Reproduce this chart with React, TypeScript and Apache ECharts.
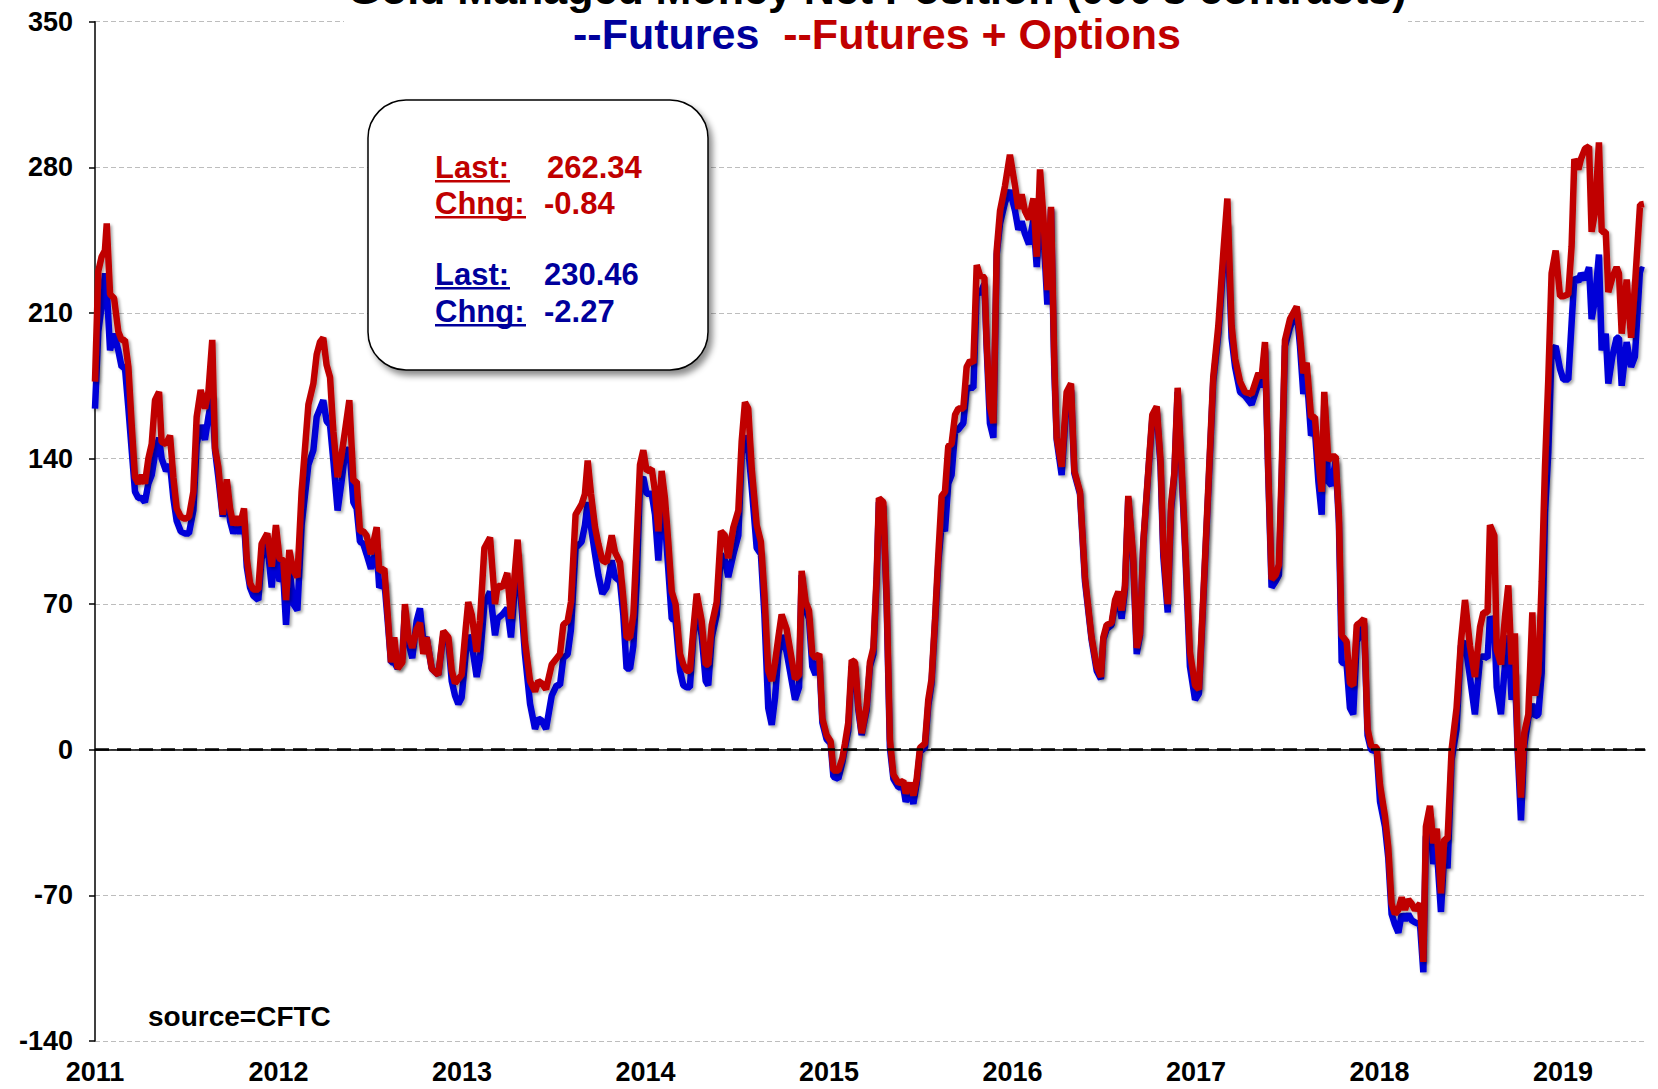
import React, { useEffect, useRef } from "react";
import * as echarts from "echarts";

// decimal-year dates of the weekly readings
const weeks = [
  2011.000, 2011.018, 2011.036, 2011.054, 2011.064, 2011.082, 2011.104, 2011.127, 2011.145, 2011.163,
  2011.182, 2011.200, 2011.218, 2011.236, 2011.254, 2011.272, 2011.291, 2011.309, 2011.327, 2011.349,
  2011.363, 2011.387, 2011.409, 2011.427, 2011.445, 2011.467, 2011.490, 2011.512, 2011.536, 2011.554,
  2011.576, 2011.599, 2011.618, 2011.639, 2011.654, 2011.672, 2011.696, 2011.718, 2011.736, 2011.754,
  2011.772, 2011.790, 2011.812, 2011.827, 2011.845, 2011.863, 2011.890, 2011.908, 2011.939, 2011.963,
  2011.986, 2012.005, 2012.026, 2012.041, 2012.059, 2012.081, 2012.103, 2012.126, 2012.163, 2012.190,
  2012.208, 2012.226, 2012.244, 2012.262,
  2012.281, 2012.299, 2012.322, 2012.344, 2012.362, 2012.386, 2012.408, 2012.426, 2012.444, 2012.462,
  2012.480, 2012.504, 2012.535, 2012.549, 2012.577, 2012.595, 2012.613, 2012.631, 2012.649, 2012.675,
  2012.689, 2012.707, 2012.729, 2012.753, 2012.771, 2012.789, 2012.807, 2012.835, 2012.871, 2012.898,
  2012.926, 2012.944, 2012.962, 2012.980, 2012.998, 2013.020, 2013.034, 2013.053, 2013.080, 2013.098,
  2013.122, 2013.153, 2013.180, 2013.194, 2013.220, 2013.247, 2013.267, 2013.303, 2013.343, 2013.371,
  2013.398, 2013.416, 2013.434, 2013.458, 2013.489, 2013.516,
  2013.534, 2013.552, 2013.576, 2013.594, 2013.619, 2013.652, 2013.670, 2013.685, 2013.703, 2013.725,
  2013.743, 2013.765, 2013.788, 2013.816, 2013.834, 2013.861, 2013.879, 2013.897, 2013.916, 2013.934,
  2013.952, 2013.970, 2013.988, 2014.006, 2014.034, 2014.052, 2014.070, 2014.088, 2014.106, 2014.124,
  2014.143, 2014.164, 2014.188, 2014.206, 2014.224, 2014.242, 2014.261, 2014.279, 2014.306, 2014.328,
  2014.342, 2014.361, 2014.388, 2014.411, 2014.433, 2014.451, 2014.479, 2014.506, 2014.524, 2014.542,
  2014.560, 2014.579, 2014.606, 2014.629, 2014.648, 2014.669, 2014.688, 2014.706, 2014.724, 2014.742,
  2014.769,
  2014.815, 2014.837, 2014.851, 2014.873, 2014.891, 2014.909, 2014.927, 2014.947, 2014.964, 2014.987,
  2015.009, 2015.024, 2015.051, 2015.073, 2015.087, 2015.105, 2015.124, 2015.142, 2015.160, 2015.178,
  2015.205, 2015.223, 2015.242, 2015.260, 2015.272, 2015.296, 2015.314, 2015.332, 2015.351, 2015.378,
  2015.405, 2015.418, 2015.441, 2015.460, 2015.478, 2015.496, 2015.523, 2015.541, 2015.559, 2015.578,
  2015.596, 2015.614, 2015.632, 2015.650, 2015.668, 2015.687, 2015.705, 2015.732, 2015.750, 2015.768,
  2015.787, 2015.805, 2015.823, 2015.847, 2015.859, 2015.877, 2015.896, 2015.914, 2015.932, 2015.959,
  2015.986, 2016.014,
  2016.032, 2016.050, 2016.068, 2016.090, 2016.114, 2016.132, 2016.150, 2016.168, 2016.190, 2016.210,
  2016.228, 2016.241, 2016.268, 2016.295, 2016.319, 2016.337, 2016.368, 2016.395, 2016.431, 2016.459,
  2016.482, 2016.495, 2016.513, 2016.540, 2016.559, 2016.577, 2016.595, 2016.613, 2016.631, 2016.658,
  2016.677, 2016.695, 2016.713, 2016.740, 2016.762, 2016.786, 2016.807, 2016.822, 2016.846, 2016.864,
  2016.882, 2016.900, 2016.922, 2016.944, 2016.967, 2016.995, 2017.016, 2017.040, 2017.067, 2017.094,
  2017.122, 2017.149, 2017.171, 2017.194, 2017.213, 2017.240, 2017.267,
  2017.303, 2017.340, 2017.358, 2017.376, 2017.394, 2017.412, 2017.434, 2017.452, 2017.467, 2017.485,
  2017.512, 2017.549, 2017.567, 2017.585, 2017.603, 2017.627, 2017.648, 2017.667, 2017.685, 2017.699,
  2017.721, 2017.739, 2017.761, 2017.779, 2017.794, 2017.821, 2017.839, 2017.857, 2017.876, 2017.894,
  2017.916, 2017.935, 2017.954, 2017.985, 2018.003, 2018.030, 2018.048, 2018.066, 2018.084, 2018.103,
  2018.121, 2018.139, 2018.157, 2018.175, 2018.193, 2018.221, 2018.239, 2018.253, 2018.275, 2018.293,
  2018.312, 2018.335, 2018.353, 2018.371, 2018.393, 2018.420, 2018.444, 2018.466, 2018.493, 2018.520,
  2018.548, 2018.566, 2018.589, 2018.602, 2018.626, 2018.639, 2018.662, 2018.684, 2018.702, 2018.720,
  2018.738, 2018.753, 2018.771, 2018.789, 2018.811, 2018.833, 2018.847, 2018.866, 2018.884, 2018.902,
  2018.920, 2018.938, 2018.960, 2018.984, 2019.002, 2019.029, 2019.047, 2019.062, 2019.084, 2019.098,
  2019.120, 2019.142, 2019.156, 2019.174, 2019.196, 2019.211, 2019.233, 2019.247, 2019.269, 2019.292,
  2019.305, 2019.320, 2019.347, 2019.371, 2019.392, 2019.420, 2019.441,
];

// Futures + Options (red), 000s contracts
const futuresOptions = [
  177, 230, 237, 240, 253, 219, 217, 201, 197, 197,
  184, 156, 131, 128, 132, 128, 140, 147, 168, 172,
  148, 147, 151, 131, 116, 112, 111, 112, 124, 160,
  173, 164, 172, 197, 145, 136, 113, 130, 116, 108,
  112, 108, 116, 92, 80, 77, 77, 99, 104, 88,
  108, 92, 91, 72, 96, 86, 83, 124, 166, 176,
  190, 196, 198, 185,
  179, 153, 131, 142, 153, 168, 129, 129, 105, 105,
  103, 94, 107, 86, 87, 65, 42, 54, 39, 42,
  70, 55, 49, 58, 61, 46, 54, 39, 36, 57,
  54, 38, 32, 34, 36, 58, 71, 65, 47, 62,
  97, 102, 70, 79, 78, 85, 63, 101, 52, 33,
  28, 33, 32, 29, 41, 44,
  46, 60, 62, 71, 113, 118, 123, 139, 123, 107,
  99, 91, 90, 103, 95, 90, 73, 54, 54, 65,
  100, 137, 144, 134, 135, 124, 105, 134, 121, 100,
  76, 70, 46, 41, 38, 38, 58, 75, 62, 41,
  41, 60, 71, 105, 103, 92, 107, 115, 148, 167,
  164, 135, 108, 100, 75, 38, 33, 42, 54, 65,
  58,
  34, 36, 86, 71, 67, 46, 44, 46, 15, 7,
  4, -10, -10, -4, 3, 13, 43, 42, 21, 8,
  21, 42, 49, 84, 121, 119, 74, 5, -12, -16,
  -15, -21, -16, -22, -14, 1, 3, 24, 34, 63,
  94, 122, 124, 146, 147, 161, 164, 164, 184, 187,
  186, 233, 228, 227, 196, 165, 157, 240, 259, 271,
  286, 271,
  260, 267, 259, 255, 265, 237, 279, 257, 221, 261,
  186, 150, 136, 172, 176, 134, 124, 83, 54, 40,
  35, 54, 60, 61, 72, 76, 67, 79, 122, 93,
  49, 56, 100, 134, 161, 165, 139, 97, 70, 118,
  133, 174, 136, 93, 47, 31, 29, 74, 126, 179,
  204, 239, 265, 204, 188, 177, 172,
  171, 181, 179, 196, 134, 82, 84, 89, 134, 197,
  207, 213, 199, 181, 186, 160, 160, 139, 124, 172,
  139, 141, 141, 112, 55, 52, 32, 31, 60, 61,
  63, 10, 2, 1, -17, -32, -47, -74, -79, -77,
  -71, -77, -72, -74, -77, -74, -102, -37, -27, -45,
  -38, -69, -43, -43, 0, 20, 52, 72, 50, 35,
  59, 66, 66, 108, 103, 48, 41, 64, 79, 41,
  56, 2, -23, 8, 17, 66, 26, 37, 81, 136,
  178, 229, 240, 218, 218, 219, 242, 284, 279, 284,
  289, 290, 249, 258, 292, 249, 249, 220, 227, 232,
  229, 200, 226, 198, 223, 262, 262.34,
];

// Futures only (blue), 000s contracts
const futures = [
  164, 201, 213, 229, 222, 192, 200, 192, 184, 184,
  164, 144, 124, 121, 121, 119, 128, 132, 142, 150,
  140, 134, 137, 121, 110, 105, 104, 104, 115, 147,
  156, 149, 160, 170, 144, 131, 112, 128, 110, 104,
  108, 104, 110, 88, 78, 74, 72, 92, 99, 78,
  100, 81, 84, 60, 88, 70, 67, 108, 137, 144,
  160, 164, 168, 158,
  156, 139, 115, 129, 142, 145, 119, 116, 100, 99,
  94, 87, 97, 78, 81, 62, 42, 42, 39, 44,
  67, 52, 44, 62, 68, 52, 54, 39, 36, 55,
  52, 33, 26, 22, 25, 46, 55, 51, 35, 44,
  70, 76, 55, 63, 65, 68, 54, 95, 46, 22,
  10, 15, 14, 10, 26, 31,
  31, 44, 46, 58, 97, 100, 108, 119, 107, 94,
  84, 75, 78, 91, 83, 81, 65, 39, 39, 50,
  81, 129, 131, 123, 123, 113, 91, 116, 110, 87,
  63, 62, 38, 31, 30, 30, 55, 68, 55, 33,
  31, 54, 65, 94, 91, 83, 94, 103, 142, 151,
  145, 126, 97, 94, 65, 20, 12, 25, 46, 55,
  47,
  24, 30, 84, 67, 63, 40, 36, 44, 13, 5,
  3, -13, -14, -6, 1, 9, 40, 40, 19, 7,
  19, 40, 46, 82, 119, 117, 71, 1, -14, -18,
  -18, -25, -20, -26, -16, -1, 1, 21, 32, 61,
  90, 109, 105, 128, 132, 153, 154, 157, 173, 174,
  174, 221, 219, 224, 194, 157, 150, 238, 253, 263,
  269, 259,
  250, 254, 248, 243, 255, 232, 257, 250, 214, 260,
  182, 149, 132, 168, 173, 133, 123, 81, 53, 38,
  34, 53, 58, 60, 70, 72, 63, 77, 121, 90,
  46, 55, 99, 133, 159, 163, 136, 93, 66, 115,
  132, 172, 133, 90, 40, 24, 27, 72, 124, 177,
  200, 234, 253, 198, 184, 172, 170,
  166, 176, 175, 193, 132, 78, 81, 84, 129, 194,
  203, 211, 194, 171, 181, 151, 154, 129, 113, 166,
  129, 127, 139, 109, 42, 41, 20, 17, 52, 55,
  61, 7, 0, -1, -25, -37, -52, -79, -84, -88,
  -79, -82, -79, -82, -83, -84, -107, -42, -32, -55,
  -47, -78, -50, -57, -5, 10, 50, 52, 35, 17,
  44, 45, 44, 64, 59, 30, 17, 41, 55, 24,
  37, 0, -34, 2, 15, 22, 16, 17, 37, 114,
  143, 192, 194, 183, 178, 178, 205, 227, 225, 229,
  226, 232, 207, 216, 238, 192, 200, 176, 189, 198,
  198, 175, 196, 184, 189, 231, 230.46,
];

const titleLine1 = "Gold Managed Money Net Position (000's contracts)";
const legendFutures = "--Futures";
const legendFuturesOptions = "--Futures + Options";
const sourceNote = "source=CFTC";

const boxRows = [
  { label: "Last:", value: "262.34", series: "fo" },
  { label: "Chng:", value: "-0.84", series: "fo" },
  { label: "Last:", value: "230.46", series: "f" },
  { label: "Chng:", value: "-2.27", series: "f" },
];

const RED = "#C00000";
const BLUE_LINE = "#0000D8";
const BLUE_TEXT = "#00009C";
const FONT = "'Liberation Sans', Arial, Helvetica, sans-serif";

export default function App() {
  const ref = useRef<HTMLDivElement>(null);

  useEffect(() => {
    if (!ref.current) return;
    const chart = echarts.init(ref.current, undefined, { renderer: "svg" });

    const rowY = [167, 203, 274, 311];
    const rowValueX = [547, 544, 544, 544];
    const labelFs = 31;
    const graphics: any[] = [];

    // title background (covers the top gridline)
    graphics.push({
      type: "rect",
      z: 100,
      shape: { x: 344, y: 0, width: 1064, height: 56 },
      style: { fill: "#ffffff" },
    });
    graphics.push({
      type: "text",
      z: 101,
      x: 877,
      y: -11,
      style: {
        text: titleLine1,
        fill: "#000",
        font: `bold 43px ${FONT}`,
        align: "center",
        verticalAlign: "middle",
      },
    });
    graphics.push({
      type: "text",
      z: 101,
      x: 877,
      y: 34,
      style: {
        text: `{b|${legendFutures}}  {r|${legendFuturesOptions}}`,
        font: `bold 43px ${FONT}`,
        align: "center",
        verticalAlign: "middle",
        rich: {
          b: { fill: BLUE_TEXT, font: `bold 43px ${FONT}` },
          r: { fill: RED, font: `bold 43px ${FONT}` },
        },
      },
    });

    // info box
    graphics.push({
      type: "rect",
      z: 100,
      shape: { x: 368, y: 100, width: 340, height: 270, r: 38 },
      style: {
        fill: "#ffffff",
        stroke: "#000",
        lineWidth: 1.5,
        shadowBlur: 6,
        shadowOffsetX: 4,
        shadowOffsetY: 5,
        shadowColor: "rgba(0,0,0,0.45)",
      },
    });
    boxRows.forEach((row, i) => {
      const color = row.series === "fo" ? RED : BLUE_TEXT;
      const labelW = row.label === "Last:" ? 75 : 91;
      graphics.push({
        type: "text",
        z: 101,
        x: 435,
        y: rowY[i],
        style: {
          text: row.label,
          fill: color,
          font: `bold ${labelFs}px ${FONT}`,
          align: "left",
          verticalAlign: "middle",
        },
      });
      graphics.push({
        type: "rect",
        z: 101,
        shape: { x: 435, y: rowY[i] + 13, width: labelW, height: 2.5 },
        style: { fill: color },
      });
      graphics.push({
        type: "text",
        z: 101,
        x: rowValueX[i],
        y: rowY[i],
        style: {
          text: row.value,
          fill: color,
          font: `bold ${labelFs}px ${FONT}`,
          align: "left",
          verticalAlign: "middle",
        },
      });
    });

    graphics.push({
      type: "text",
      z: 101,
      x: 148,
      y: 1016,
      style: {
        text: sourceNote,
        fill: "#000",
        font: `bold 28px ${FONT}`,
        align: "left",
        verticalAlign: "middle",
      },
    });

    const lineShadow = {
      shadowColor: "rgba(0,0,0,0.35)",
      shadowBlur: 3,
      shadowOffsetX: 2,
      shadowOffsetY: 2,
    };

    chart.setOption({
      animation: false,
      backgroundColor: "#ffffff",
      grid: { left: 95, right: 13, top: 21.7, bottom: 48.1, containLabel: false },
      xAxis: {
        type: "value",
        min: 2011,
        max: 2019.447,
        interval: 1,
        axisLine: { show: true, lineStyle: { color: "#000", width: 1.5 } },
        axisTick: { show: false },
        splitLine: { show: false },
        axisLabel: {
          color: "#000",
          fontWeight: "bold",
          fontSize: 27,
          fontFamily: FONT,
          margin: 18,
          showMaxLabel: false,
          formatter: (v: number) =>
            Math.abs(v - Math.round(v)) < 1e-6 ? String(Math.round(v)) : "",
        },
      },
      yAxis: {
        type: "value",
        min: -140,
        max: 350,
        interval: 70,
        axisLine: { show: true, lineStyle: { color: "#000", width: 1.5 } },
        axisTick: { show: true, length: 6, lineStyle: { color: "#000", width: 1.5 } },
        splitLine: {
          show: true,
          lineStyle: { color: "#BDBDBD", width: 1, type: [5, 3] },
        },
        axisLabel: {
          color: "#000",
          fontWeight: "bold",
          fontSize: 27,
          fontFamily: FONT,
          margin: 22,
        },
      },
      series: [
        {
          name: "Futures",
          type: "line",
          z: 2,
          symbol: "none",
          showSymbol: false,
          data: weeks.map((w, i) => [w, futures[i]]),
          lineStyle: { color: BLUE_LINE, width: 6.5, ...lineShadow },
          markLine: {
            silent: true,
            symbol: "none",
            label: { show: false },
            lineStyle: { color: "#000", width: 2.5, type: [14, 8] },
            data: [{ yAxis: 0 }],
          },
        },
        {
          name: "Futures + Options",
          type: "line",
          z: 3,
          symbol: "none",
          showSymbol: false,
          data: weeks.map((w, i) => [w, futuresOptions[i]]),
          lineStyle: { color: RED, width: 6.5, ...lineShadow },
        },
      ],
      graphic: { elements: graphics },
    });

    return () => chart.dispose();
  }, []);

  return (
    <div
      ref={ref}
      style={{ position: "fixed", left: 0, top: 0, width: 1658, height: 1089, background: "#fff" }}
    />
  );
}
